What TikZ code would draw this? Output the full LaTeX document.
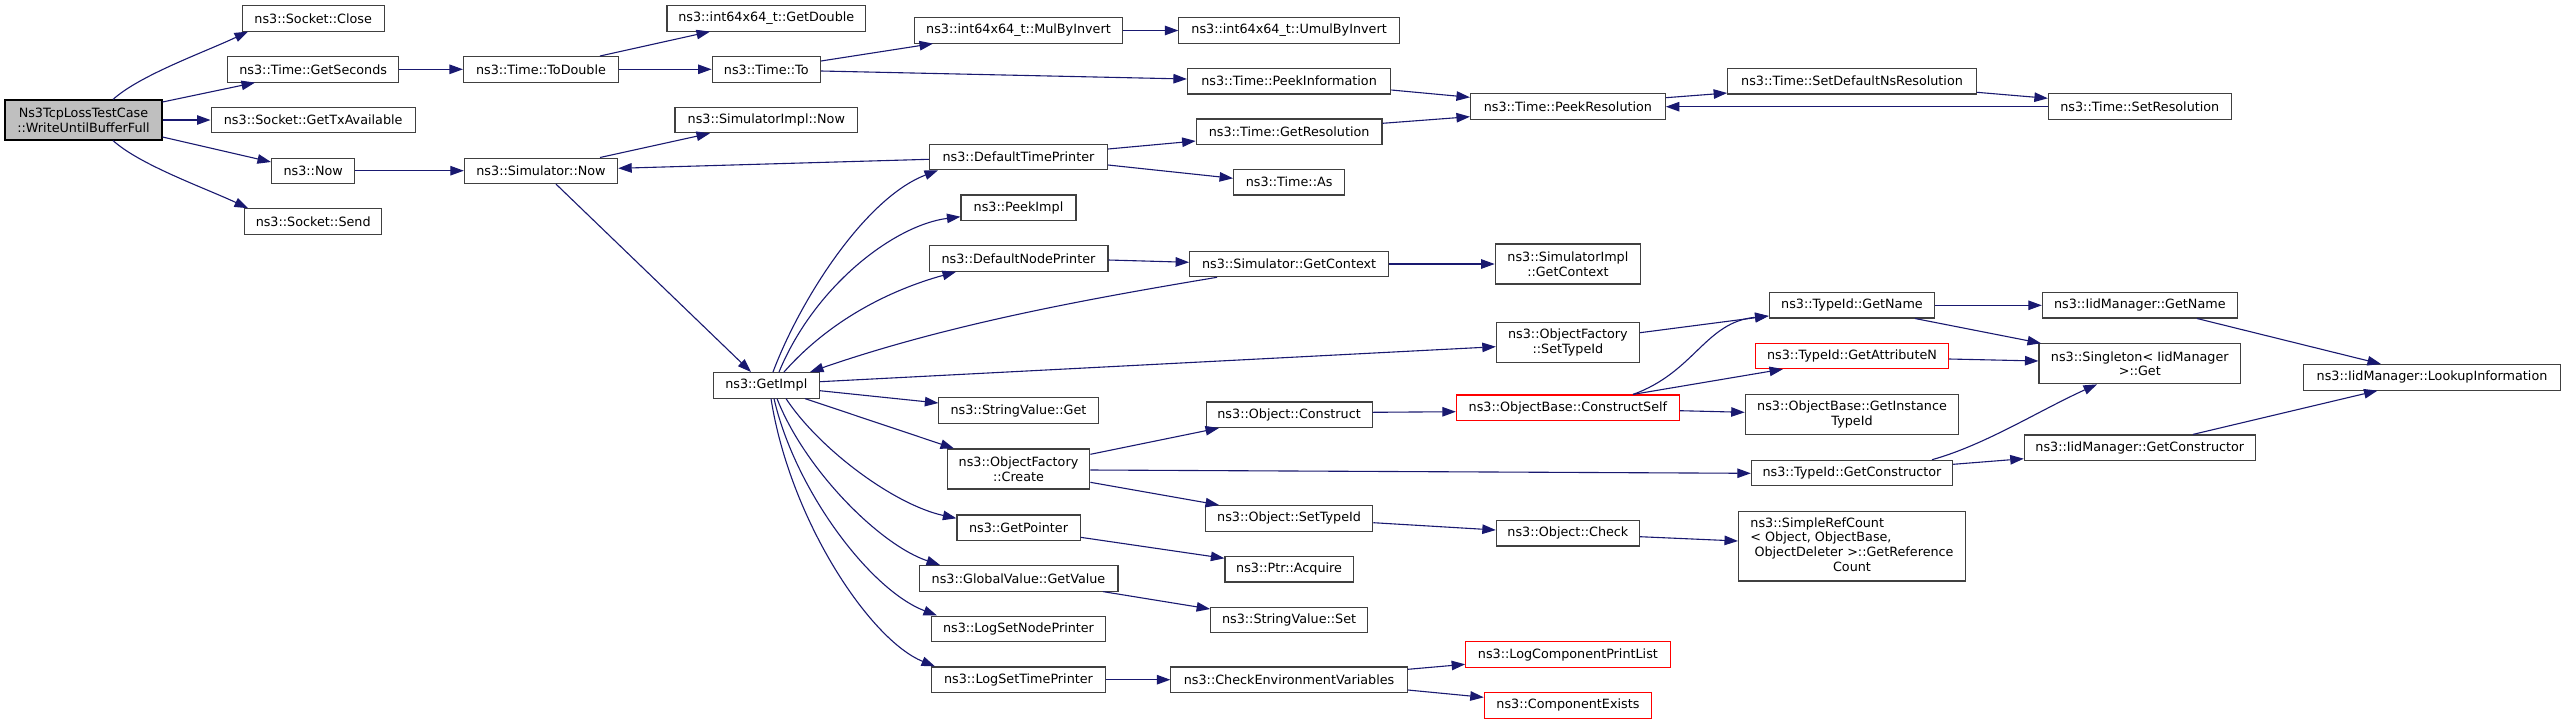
\documentclass[tikz,border=0pt]{standalone}
\usepackage{fontspec}
\setmainfont{DejaVu Sans}
\usetikzlibrary{arrows.meta}
\definecolor{edgeblue}{HTML}{191970}
\definecolor{bordergrey}{HTML}{404040}
\definecolor{rootfill}{HTML}{BFBFBF}
\begin{document}
\begin{tikzpicture}[x=1pt,y=-1pt,
  box/.style={draw=bordergrey, line width=1.1pt, fill=white, inner sep=0pt,
    minimum height=25.5pt, align=center, font=\fontsize{12.76}{14.7}\selectfont},
  two/.style={minimum height=40pt},
  redbox/.style={box, draw=red},
  e/.style={draw=edgeblue, line width=1.1pt, -{Triangle[length=13.5pt,width=9.5pt]}}]
\useasboundingbox[fill=white] (0,0) rectangle (2565,724);
% nodes
\node[box,two,fill=rootfill,draw=black,minimum width=157pt] (root) at (83.5,120) {Ns3TcpLossTestCase\\::WriteUntilBufferFull};
\node[box,minimum width=141.7pt] (close) at (313.2,18.3) {ns3::Socket::Close};
\node[box,minimum width=171pt] (gsec) at (313.2,69.3) {ns3::Time::GetSeconds};
\node[box,minimum width=204.3pt] (gtx) at (313.2,120) {ns3::Socket::GetTxAvailable};
\node[box,minimum width=83.3pt] (now) at (313.2,170.8) {ns3::Now};
\node[box,minimum width=136.7pt] (send) at (313.2,221.5) {ns3::Socket::Send};
\node[box,minimum width=198.7pt] (gdbl) at (766.3,18.3) {ns3::int64x64\_t::GetDouble};
\node[box,minimum width=155pt] (todbl) at (541,69.3) {ns3::Time::ToDouble};
\node[box,minimum width=108.3pt] (to) at (766.3,69.3) {ns3::Time::To};
\node[box,minimum width=182.7pt] (simnow) at (766.3,120) {ns3::SimulatorImpl::Now};
\node[box,minimum width=153.3pt] (snow) at (541,170.8) {ns3::Simulator::Now};
\node[box,minimum width=208.3pt] (mul) at (1018.5,30.3) {ns3::int64x64\_t::MulByInvert};
\node[box,minimum width=220.4pt] (umul) at (1289.1,30.3) {ns3::int64x64\_t::UmulByInvert};
\node[box,minimum width=203.3pt] (pinfo) at (1289.1,81.2) {ns3::Time::PeekInformation};
\node[box,minimum width=185.8pt] (gres) at (1289.1,131.7) {ns3::Time::GetResolution};
\node[box,minimum width=178pt] (dtp) at (1018.5,157) {ns3::DefaultTimePrinter};
\node[box,minimum width=111pt] (as) at (1289.1,182.2) {ns3::Time::As};
\node[box,minimum width=115pt] (pimpl) at (1018.5,207.7) {ns3::PeekImpl};
\node[box,minimum width=194.8pt] (pres) at (1567.9,106.5) {ns3::Time::PeekResolution};
\node[box,minimum width=248.6pt] (sdns) at (1852,81.2) {ns3::Time::SetDefaultNsResolution};
\node[box,minimum width=182.8pt] (sres) at (2139.8,106.5) {ns3::Time::SetResolution};
\node[box,minimum width=106pt] (gimpl) at (766.3,385.3) {ns3::GetImpl};
\node[box,minimum width=178.9pt] (dnp) at (1018.5,258.5) {ns3::DefaultNodePrinter};
\node[box,minimum width=198.9pt] (sgctx) at (1289.1,264) {ns3::Simulator::GetContext};
\node[box,minimum width=159.2pt] (svget) at (1018.5,410.5) {ns3::StringValue::Get};
\node[box,minimum width=165.9pt] (ocons) at (1289.1,414.7) {ns3::Object::Construct};
\node[box,two,minimum width=142.7pt] (ofcr) at (1018.5,469) {ns3::ObjectFactory\\::Create};
\node[box,two,minimum width=145.4pt] (sigctx) at (1567.9,264) {ns3::SimulatorImpl\\::GetContext};
\node[box,minimum width=165.7pt] (tgname) at (1852,305.2) {ns3::TypeId::GetName};
\node[box,two,minimum width=143.1pt] (ofstid) at (1567.9,342.7) {ns3::ObjectFactory\\::SetTypeId};
\node[redbox,minimum width=193.3pt] (gattr) at (1852,355.8) {ns3::TypeId::GetAttributeN};
\node[redbox,minimum width=223pt] (cself) at (1567.9,407.7) {ns3::ObjectBase::ConstructSelf};
\node[box,two,minimum width=213.5pt] (ginst) at (1852,414.3) {ns3::ObjectBase::GetInstance\\TypeId};
\node[box,minimum width=201.3pt] (tgcons) at (1852,473) {ns3::TypeId::GetConstructor};
\node[box,minimum width=194.9pt] (igname) at (2139.8,305.2) {ns3::IidManager::GetName};
\node[box,two,minimum width=201.6pt] (single) at (2139.8,363.8) {ns3::Singleton< IidManager\\ >::Get};
\node[box,minimum width=256.5pt] (lookup) at (2432,377.3) {ns3::IidManager::LookupInformation};
\node[box,minimum width=231pt] (igcons) at (2139.8,447.7) {ns3::IidManager::GetConstructor};
\node[box,minimum width=167.3pt] (ostid) at (1289.1,518.3) {ns3::Object::SetTypeId};
\node[box,minimum width=123.1pt] (gptr) at (1018.5,527.7) {ns3::GetPointer};
\node[box,minimum width=128.3pt] (acq) at (1289.1,569.2) {ns3::Ptr::Acquire};
\node[box,minimum width=198.9pt] (gval) at (1018.5,578.3) {ns3::GlobalValue::GetValue};
\node[box,minimum width=156.8pt] (svset) at (1289.1,619.8) {ns3::StringValue::Set};
\node[box,minimum width=174.7pt] (lsnp) at (1018.5,628.8) {ns3::LogSetNodePrinter};
\node[box,minimum width=174pt] (lstp) at (1018.5,679.7) {ns3::LogSetTimePrinter};
\node[box,minimum width=236.4pt] (cenv) at (1289.1,679.7) {ns3::CheckEnvironmentVariables};
\node[box,minimum width=143.1pt] (ocheck) at (1567.9,533.2) {ns3::Object::Check};
\node[box,minimum width=226.9pt,minimum height=69.3pt] (srcnt) at (1852,546.3)
  {\begin{tabular}{@{}l@{}}ns3::SimpleRefCount\\< Object, ObjectBase,\\\ ObjectDeleter >::GetReference\\\multicolumn{1}{@{}c@{}}{Count}\end{tabular}};
\node[redbox,minimum width=204.4pt] (lcpl) at (1567.9,654.5) {ns3::LogComponentPrintList};
\node[redbox,minimum width=167.2pt] (cexists) at (1567.9,705.3) {ns3::ComponentExists};
% edges
\draw[e] (root.north -| 113,0) .. controls (140,75) and (205,52) .. (close.south -| 248,0);
\draw[e] (root.south -| 113,0) .. controls (140,165) and (205,188) .. (send.north -| 248,0);
\draw[e] (root.east |- 0,102) -- (gsec.south -| 255,0);
\draw[e] (root.east |- 0,120) -- (gtx.west |- 0,120);
\draw[e] (root.east |- 0,137) -- (now.west |- 0,162);
\draw[e] (gsec.east |- 0,69.3) -- (todbl.west |- 0,69.3);
\draw[e] (todbl.north -| 600,0) -- (gdbl.south -| 710,0);
\draw[e] (todbl.east |- 0,69.3) -- (to.west |- 0,69.3);
\draw[e] (to.east |- 0,61) -- (mul.south -| 933,0);
\draw[e] (to.east |- 0,71) -- (pinfo.west |- 0,79);
\draw[e] (mul.east |- 0,30.5) -- (umul.west |- 0,30.5);
\draw[e] (pinfo.east |- 0,90) -- (pres.west |- 0,97.3);
\draw[e] (gres.east |- 0,123.3) -- (pres.west |- 0,116.7);
\draw[e] (pres.east |- 0,97.7) -- (sdns.west |- 0,93);
\draw[e] (sdns.east |- 0,92.3) -- (sres.west |- 0,98.3);
\draw[e] (sres.west |- 0,106.7) -- (pres.east |- 0,106.7);
\draw[e] (now.east |- 0,170.7) -- (snow.west |- 0,170.7);
\draw[e] (snow.north -| 600,0) -- (simnow.south -| 710,0);
\draw[e] (snow.south -| 556,0) -- (gimpl.north -| 751,0);
\draw[e] (dtp.west |- 0,159.3) -- (snow.east |- 0,168.3);
\draw[e] (dtp.east |- 0,149) -- (gres.west |- 0,141);
\draw[e] (dtp.east |- 0,165) -- (as.west |- 0,178.3);
\draw[e] (gimpl.north -| 773,0) .. controls (800,300) and (865,198) .. (dtp.south -| 938,0);
\draw[e] (gimpl.north -| 779,0) .. controls (815,285) and (895,225) .. (pimpl.west |- 0,216.7);
\draw[e] (gimpl.north -| 784,0) .. controls (830,320) and (890,290) .. (dnp.south -| 956,0);
\draw[e] (dnp.east |- 0,260) -- (sgctx.west |- 0,262.3);
\draw[e] (sgctx.south -| 1217,0) .. controls (1081,300) and (946,325) .. (gimpl.north -| 810,0);
\draw[e] (sgctx.east |- 0,264) -- (sigctx.west |- 0,264);
\draw[e] (gimpl.east |- 0,381.7) -- (ofstid.west |- 0,346.7);
\draw[e] (gimpl.east |- 0,390.7) -- (svget.west |- 0,403);
\draw[e] (gimpl.south -| 805,0) -- (ofcr.north -| 954,0);
\draw[e] (ofcr.east |- 0,454.3) -- (ocons.south -| 1219,0);
\draw[e] (ocons.east |- 0,412.3) -- (cself.west |- 0,411.7);
\draw[e] (ofcr.east |- 0,470) -- (tgcons.west |- 0,473.3);
\draw[e] (ofcr.east |- 0,482.3) -- (ostid.north -| 1219,0);
\draw[e] (ostid.east |- 0,522.7) -- (ocheck.west |- 0,530);
\draw[e] (ocheck.east |- 0,536.7) -- (srcnt.west |- 0,541);
\draw[e] (ofstid.east |- 0,332.7) -- (tgname.west |- 0,316);
\draw[e] (cself.north -| 1633,0) .. controls (1695,372) and (1705,322) .. (tgname.west |- 0,316);
\draw[e] (cself.north -| 1633,0) -- (gattr.south -| 1783,0);
\draw[e] (cself.east |- 0,410.7) -- (ginst.west |- 0,412.3);
\draw[e] (tgname.east |- 0,305.3) -- (igname.west |- 0,305.3);
\draw[e] (tgname.south -| 1915,0) -- (single.north -| 2041,0);
\draw[e] (gattr.east |- 0,359) -- (single.west |- 0,361);
\draw[e] (tgcons.north -| 1932,0) .. controls (1985,445) and (2040,410) .. (single.south -| 2097,0);
\draw[e] (tgcons.east |- 0,464.3) -- (igcons.west |- 0,458.7);
\draw[e] (igname.south -| 2197,0) -- (lookup.north -| 2381,0);
\draw[e] (igcons.north -| 2193,0) -- (lookup.south -| 2377.5,0);
\draw[e] (gimpl.south -| 786,0) .. controls (820,450) and (895,505) .. (gptr.west |- 0,518.3);
\draw[e] (gptr.east |- 0,537.3) -- (acq.west |- 0,558.3);
\draw[e] (gimpl.south -| 777,0) .. controls (805,470) and (880,545) .. (gval.north -| 940,0);
\draw[e] (gval.south -| 1103,0) -- (svset.west |- 0,609);
\draw[e] (gimpl.south -| 774,0) .. controls (795,490) and (870,590) .. (lsnp.north -| 937,0);
\draw[e] (gimpl.south -| 771,0) .. controls (790,520) and (870,640) .. (lstp.north -| 935,0);
\draw[e] (lstp.east |- 0,679.7) -- (cenv.west |- 0,679.7);
\draw[e] (cenv.east |- 0,669.3) -- (lcpl.west |- 0,664.3);
\draw[e] (cenv.east |- 0,690) -- (cexists.west |- 0,697.3);
\end{tikzpicture}
\end{document}
